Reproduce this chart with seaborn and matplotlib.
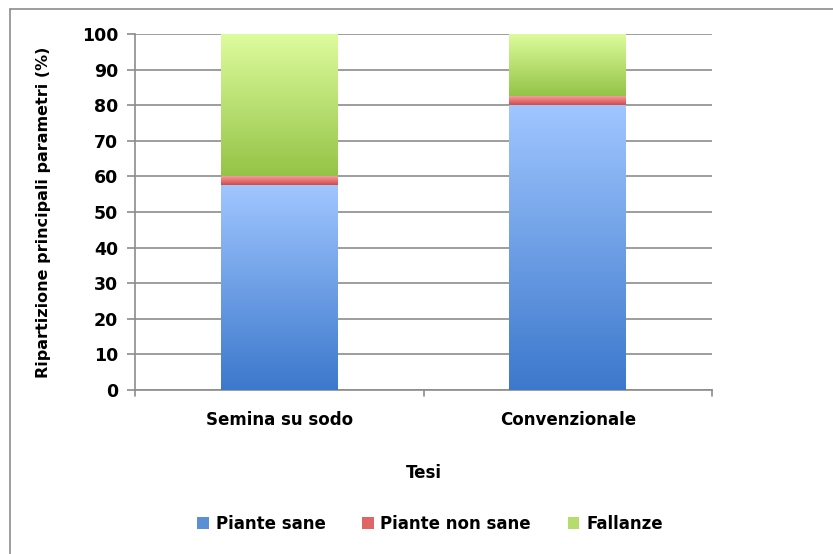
import numpy as np
import pandas as pd
import matplotlib
matplotlib.use("Agg")
import matplotlib.pyplot as plt
from matplotlib.colors import LinearSegmentedColormap
from matplotlib.patches import Patch
from matplotlib.lines import Line2D
import seaborn as sns

categories = ["Semina su sodo", "Convenzionale"]
piante_sane = [57.5, 80.0]
piante_non_sane = [2.5, 2.5]
fallanze = [40.0, 17.5]
series_names = ["Piante sane", "Piante non sane", "Fallanze"]

# (bottom colour, top colour) of each series' vertical gradient
gradients = {
    "Piante sane": ("#3C78CC", "#A0C6FF"),
    "Piante non sane": ("#D24A4A", "#F59C9C"),
    "Fallanze": ("#94C447", "#DEFC9E"),
}
legend_colors = ["#5A8FD8", "#E06565", "#B5DD6E"]

sns.set_theme(style="white")
plt.rcParams["font.family"] = ["DejaVu Sans"]
plt.rcParams["text.color"] = "black"
plt.rcParams["axes.labelcolor"] = "black"

fig = plt.figure(figsize=(8.33, 5.54), dpi=100)
ax = fig.add_axes([135 / 833, 1 - 390 / 554, 577 / 833, 356 / 554])

df = pd.DataFrame({"Tesi": categories,
                   "Piante sane": piante_sane,
                   "Piante non sane": piante_non_sane,
                   "Fallanze": fallanze})

# cumulative tops so each stacked layer is drawn behind the previous one
tops = {
    "Fallanze": df["Piante sane"] + df["Piante non sane"] + df["Fallanze"],
    "Piante non sane": df["Piante sane"] + df["Piante non sane"],
    "Piante sane": df["Piante sane"],
}
bar_w = 0.405
layer_order = ["Fallanze", "Piante non sane", "Piante sane"]
for name in layer_order:
    sns.barplot(x=df["Tesi"], y=tops[name], ax=ax, color=gradients[name][0],
                width=bar_w, edgecolor="none", zorder=3)

# replace flat fills with vertical gradients clipped to each segment
n = len(categories)
patches = list(ax.patches)
for i, patch in enumerate(patches):
    name = layer_order[i // n]
    j = i % n
    x0 = patch.get_x()
    w = patch.get_width()
    if name == "Piante sane":
        y0, y1 = 0, piante_sane[j]
    elif name == "Piante non sane":
        y0 = piante_sane[j]
        y1 = y0 + piante_non_sane[j]
    else:
        y0 = piante_sane[j] + piante_non_sane[j]
        y1 = y0 + fallanze[j]
    patch.set_visible(False)
    cmap = LinearSegmentedColormap.from_list(name, gradients[name])
    grad = np.linspace(0, 1, 256).reshape(-1, 1)
    ax.imshow(grad, cmap=cmap, origin="lower", aspect="auto",
              extent=[x0, x0 + w, y0, y1], zorder=3 + 0.1 * i)

ax.set_xlim(-0.5, 1.5)
ax.set_ylim(0, 100)
ax.set_yticks(range(0, 101, 10))
ax.yaxis.grid(True, color="#8C8C8C", linewidth=1.2, zorder=0)
ax.xaxis.grid(False)
ax.set_axisbelow(True)

for side in ["top", "right"]:
    ax.spines[side].set_visible(False)
for side in ["left", "bottom"]:
    ax.spines[side].set_color("#8C8C8C")
    ax.spines[side].set_linewidth(1.2)

ax.tick_params(axis="y", left=True, length=6, width=1.2, color="#8C8C8C",
               labelsize=12.5, pad=6, labelcolor="black")
ax.tick_params(axis="x", bottom=False, labelsize=12, pad=9, labelcolor="black")
for lbl in ax.get_yticklabels() + ax.get_xticklabels():
    lbl.set_fontweight("bold")

# category boundary marks below the x axis
for xb in [-0.5, 0.5, 1.5]:
    ax.add_line(Line2D([xb, xb], [0, -1.8], color="#8C8C8C", linewidth=1.2,
                       clip_on=False, transform=ax.transData))

ax.set_xlabel("Tesi", fontsize=12, fontweight="bold", labelpad=25)
ax.set_ylabel("Ripartizione principali parametri (%)", fontsize=11.5,
              fontweight="bold", labelpad=22)

handles = [Patch(facecolor=c, edgecolor="none") for c in legend_colors]
leg = fig.legend(handles, series_names, loc="center", ncol=3,
                 bbox_to_anchor=(430 / 833, 1 - 524 / 554), frameon=False,
                 handlelength=0.7, handleheight=0.7, handletextpad=0.4,
                 columnspacing=2.2, prop={"weight": "bold", "size": 12})
for t in leg.get_texts():
    t.set_color("black")

# outer chart frame
fig.add_artist(Line2D([10 / 833, 10 / 833], [0, 1 - 9 / 554],
                      transform=fig.transFigure, color="#8C8C8C", linewidth=1.2))
fig.add_artist(Line2D([10 / 833, 1], [1 - 9 / 554, 1 - 9 / 554],
                      transform=fig.transFigure, color="#8C8C8C", linewidth=1.2))

fig.savefig("out.png", dpi=100)
